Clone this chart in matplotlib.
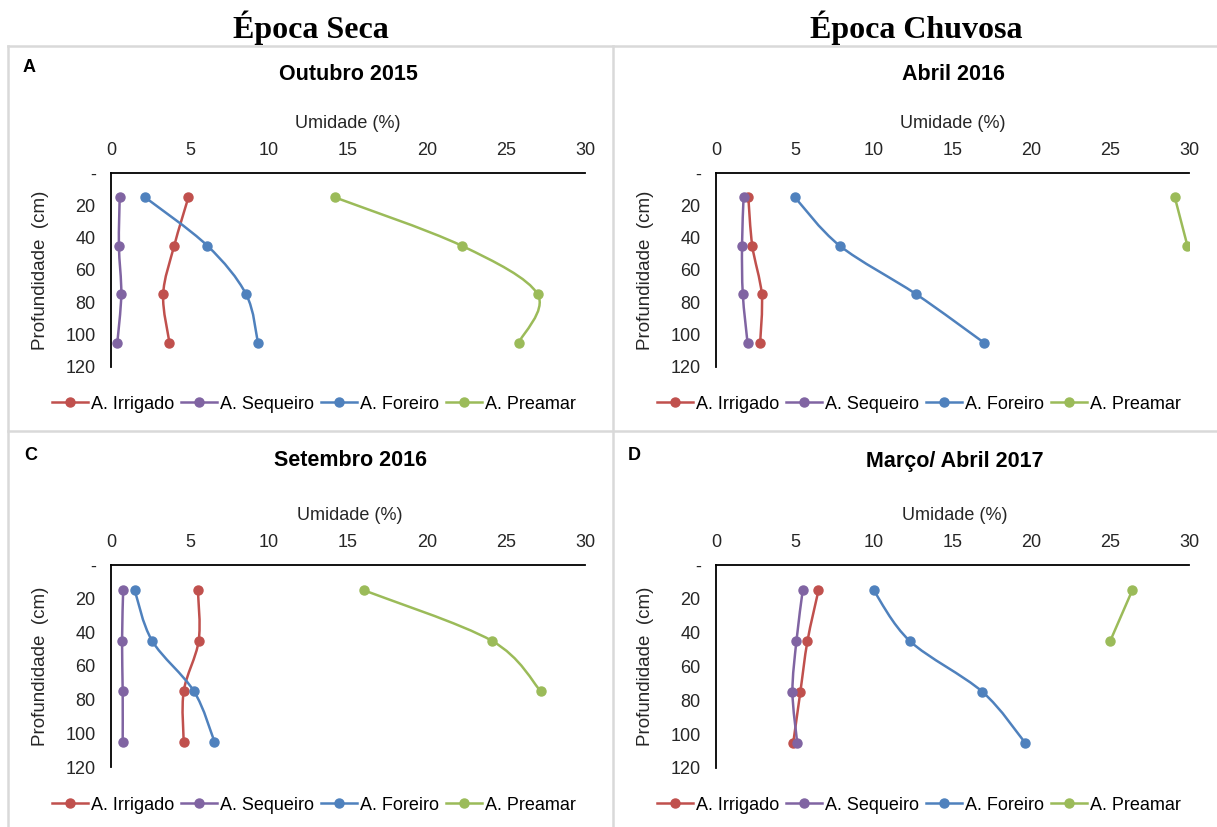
import numpy as np
import matplotlib
matplotlib.use("Agg")
import matplotlib.pyplot as plt
from matplotlib.path import Path
from matplotlib.patches import PathPatch
from matplotlib.lines import Line2D

plt.rcParams['font.family'] = ['Liberation Sans Narrow', 'Liberation Sans', 'DejaVu Sans']

# data: depth (cm) vs soil moisture (%)
depths = [15, 45, 75, 105]
series_names = ["A. Irrigado", "A. Sequeiro", "A. Foreiro", "A. Preamar"]
colors = ["#C0504D", "#8064A2", "#4F81BD", "#9BBB59"]

out2015_irrigado = [4.9, 4.0, 3.3, 3.7]
out2015_sequeiro = [0.55, 0.5, 0.65, 0.4]
out2015_foreiro = [2.15, 6.1, 8.55, 9.3]
out2015_preamar = [14.15, 22.2, 27.0, 25.8]

abr2016_irrigado = [2.05, 2.3, 2.9, 2.8]
abr2016_sequeiro = [1.75, 1.65, 1.7, 2.0]
abr2016_foreiro = [5.0, 7.85, 12.7, 17.0]
abr2016_preamar = [29.1, 29.9]

set2016_irrigado = [5.5, 5.55, 4.6, 4.6]
set2016_sequeiro = [0.77, 0.7, 0.74, 0.74]
set2016_foreiro = [1.5, 2.6, 5.25, 6.55]
set2016_preamar = [16.0, 24.1, 27.2]

mar2017_irrigado = [6.5, 5.8, 5.35, 4.9]
mar2017_sequeiro = [5.5, 5.1, 4.85, 5.15]
mar2017_foreiro = [10.0, 12.3, 16.9, 19.6]
mar2017_preamar = [26.4, 25.0]

panels = [
    ("A", "Outubro 2015", [out2015_irrigado, out2015_sequeiro, out2015_foreiro, out2015_preamar]),
    ("", "Abril 2016", [abr2016_irrigado, abr2016_sequeiro, abr2016_foreiro, abr2016_preamar]),
    ("C", "Setembro 2016", [set2016_irrigado, set2016_sequeiro, set2016_foreiro, set2016_preamar]),
    ("D", "Março/ Abril 2017", [mar2017_irrigado, mar2017_sequeiro, mar2017_foreiro, mar2017_preamar]),
]

W, H = 1217, 827
fig = plt.figure(figsize=(W / 100, H / 100), dpi=100)


def smooth_path(xs, ys):
    # excel-like smoothed line as cubic bezier segments
    pts = np.column_stack([xs, ys]).astype(float)
    n = len(pts)
    if n < 3:
        return Path(pts)
    verts = [pts[0]]
    codes = [Path.MOVETO]
    for i in range(n - 1):
        p0 = pts[i - 1] if i > 0 else pts[i]
        p1 = pts[i]
        p2 = pts[i + 1]
        p3 = pts[i + 2] if i + 2 < n else pts[i + 1]
        c1 = p1 + (p2 - p0) / 6
        c2 = p2 - (p3 - p1) / 6
        verts += [c1, c2, p2]
        codes += [Path.CURVE4] * 3
    return Path(verts, codes)


# (axes left, top, right, bottom) in pixels, plus text anchor rows
layout = [
    dict(ax=(111, 173, 585, 367), cx=348, top=46, lx=29, legx=314, legy=404),
    dict(ax=(716, 173, 1189, 367), cx=953, top=46, lx=0, legx=919, legy=404),
    dict(ax=(111, 565, 585, 767), cx=350, top=433, lx=31, legx=314, legy=805),
    dict(ax=(716, 565, 1189, 768), cx=955, top=433, lx=634, legx=919, legy=805),
]

for (letter, title, data), lay in zip(panels, layout):
    x0, y0, x1, y1 = lay["ax"]
    ax = fig.add_axes([x0 / W, 1 - y1 / H, (x1 - x0) / W, (y1 - y0) / H])
    for vals, name, col in zip(data, series_names, colors):
        d = depths[:len(vals)]
        ax.add_patch(PathPatch(smooth_path(vals, d), facecolor="none",
                               edgecolor=col, lw=1.8, zorder=2))
        ax.plot(vals, d, "o", color=col, ms=6.5, zorder=3)
    ax.set_xlim(0, 30)
    ax.set_ylim(120, 0)
    ax.set_xticks(range(0, 31, 5))
    ax.set_yticks(range(0, 121, 20))
    ax.set_yticklabels(["-"] + [str(v) for v in range(20, 121, 20)])
    ax.xaxis.tick_top()
    ax.tick_params(length=0, labelsize=13, colors="#262626")
    ax.tick_params(axis="x", pad=10)
    ax.tick_params(axis="y", pad=11)
    for s in ["right", "bottom"]:
        ax.spines[s].set_visible(False)
    for s in ["top", "left"]:
        ax.spines[s].set_linewidth(1.3)
    ax.set_facecolor("none")

    top = lay["top"]
    fig.text(lay["cx"] / W, 1 - (top + 28) / H, title, ha="center", va="center",
             fontsize=15.5, fontweight="bold")
    if letter:
        fig.text(lay["lx"] / W, 1 - (top + 22) / H, letter, ha="center", va="center",
                 fontsize=13, fontweight="bold", family=["Liberation Sans", "DejaVu Sans"])
    fig.text(lay["cx"] / W, 1 - (y0 - 49) / H, "Umidade (%)", ha="center", va="center",
             fontsize=13, color="#262626")
    fig.text((x0 - 70) / W, 1 - ((y0 + y1) / 2) / H, "Profundidade  (cm)", ha="center",
             va="center", rotation=90, fontsize=13.5, color="#262626")

    handles = [Line2D([], [], color=c, lw=1.8, marker="o", ms=6.5) for c in colors]
    ax.legend(handles, series_names, loc="center", ncol=4, frameon=False,
              bbox_to_anchor=(lay["legx"] / W, 1 - lay["legy"] / H),
              bbox_transform=fig.transFigure, fontsize=13, handlelength=2.0,
              handletextpad=0.15, columnspacing=0.4, borderpad=0)

# panel borders
border = "#D9D9D9"
for xs, ys in [([8, W], [46, 46]), ([8, W], [431, 431]), ([8, 8], [46, H]), ([613, 613], [46, H])]:
    fig.add_artist(Line2D([x / W for x in xs], [1 - y / H for y in ys], color=border, lw=1.8))

# season headings
fig.text(311 / W, 1 - 28 / H, "Época Seca", ha="center", va="center", fontsize=23,
         fontweight="bold", family=["Liberation Serif", "DejaVu Serif"])
fig.text(916 / W, 1 - 28 / H, "Época Chuvosa", ha="center", va="center", fontsize=23,
         fontweight="bold", family=["Liberation Serif", "DejaVu Serif"])

fig.savefig("out.png", dpi=100)
